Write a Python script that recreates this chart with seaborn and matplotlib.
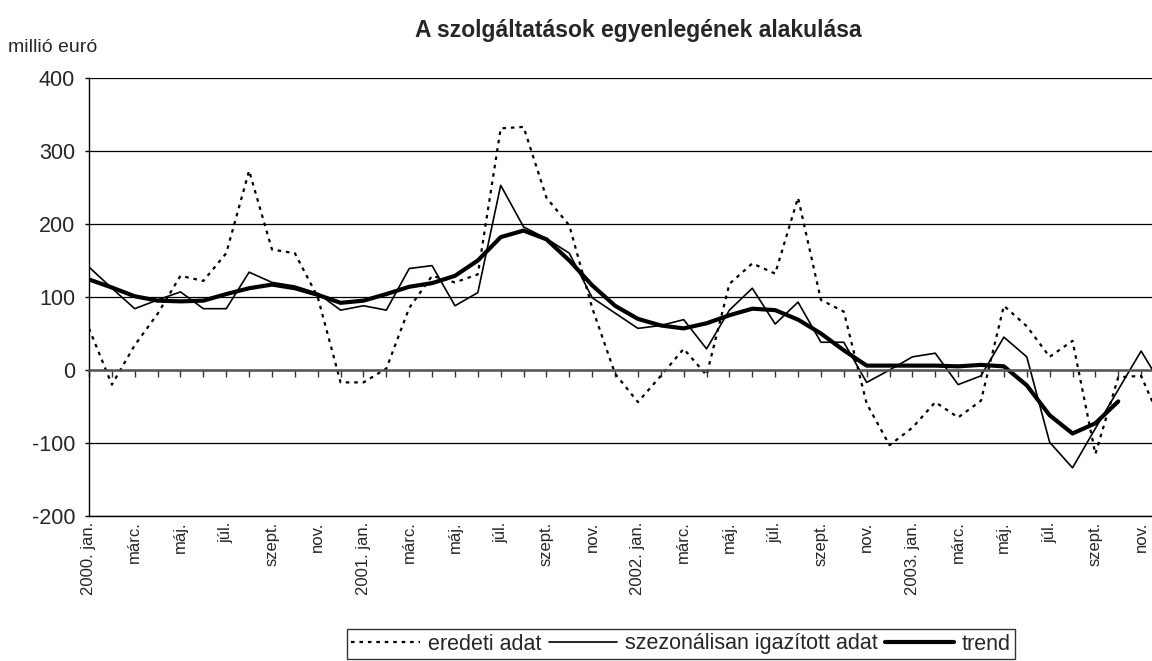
import numpy as np
import pandas as pd
import matplotlib
matplotlib.use('Agg')
import matplotlib.pyplot as plt
import seaborn as sns

# monthly data, 2000 jan - 2003 dec (million euro)
years = [2000, 2001, 2002, 2003]
month_names = ['jan.', 'febr.', 'márc.', 'ápr.', 'máj.', 'jún.',
               'júl.', 'aug.', 'szept.', 'okt.', 'nov.', 'dec.']

eredeti = [57, -20, 34, 77, 129, 122, 160, 273, 165, 160,
           100, -17, -17, 2, 85, 129, 120, 131, 331, 333,
           236, 198, 85, -5, -44, -8, 29, -7, 118, 146,
           132, 236, 96, 80, -46, -103, -79, -44, -65, -42,
           88, 60, 18, 40, -115, -10, -8, -80]

szezonalis = [141, 112, 84, 96, 107, 84, 84, 134, 120, 115,
              105, 82, 88, 82, 139, 143, 88, 106, 253, 196,
              180, 160, 99, 78, 57, 61, 69, 29, 82, 112,
              63, 93, 38, 38, -17, 0, 18, 23, -20, -8,
              45, 18, -99, -134, -80, -27, 26, -26]

trend = [124, 113, 101, 95, 94, 95, 104, 112, 117, 112,
         103, 92, 95, 104, 114, 119, 129, 150, 182, 191,
         179, 150, 116, 88, 70, 61, 57, 64, 75, 84,
         82, 69, 50, 27, 6, 6, 6, 6, 5, 7,
         5, -21, -62, -87, -73, -43]

months = np.arange(len(eredeti))
tick_labels = []
for y in years:
    for m in range(0, 12, 2):
        tick_labels.append(f'{y}. {month_names[m]}' if m == 0 else month_names[m])

sns.set_style('white')
plt.rcParams['font.family'] = ['Liberation Sans', 'DejaVu Sans']
plt.rcParams['axes.unicode_minus'] = False

fig = plt.figure(figsize=(11.52, 6.61), dpi=100)
ax = fig.add_axes([89 / 1152, 1 - 516 / 661, (1164 - 89) / 1152, (516 - 78) / 661])

sns.lineplot(x=months, y=eredeti, ax=ax, color='black', linewidth=1.6,
             linestyle=(0, (1.6, 2.2)), label='eredeti adat')
sns.lineplot(x=months, y=szezonalis, ax=ax, color='black', linewidth=1.2,
             label='szezonálisan igazított adat')
sns.lineplot(x=months[:len(trend)], y=trend, ax=ax, color='black', linewidth=3,
             label='trend')

ax.set_xlim(0, 47)
ax.set_ylim(-200, 400)
ax.set_yticks(range(-200, 401, 100))
ax.grid(axis='y', color='black', linewidth=0.9)
ax.set_axisbelow(True)
for s in ['top', 'right']:
    ax.spines[s].set_visible(False)
ax.spines['left'].set_color('black')
ax.spines['left'].set_linewidth(1.0)

# zero line with monthly tick marks
ax.spines['bottom'].set_position(('data', 0))
ax.spines['bottom'].set_color('#555555')
ax.spines['bottom'].set_linewidth(1.8)
ax.set_xticks(months)
ax.tick_params(axis='x', direction='out', length=5, width=1, color='#333333',
               labelbottom=False, bottom=True)
ax.tick_params(axis='y', direction='out', length=3, width=1, color='black',
               labelsize=15.5, pad=7, left=True)
ax.set_xlabel('')
ax.set_ylabel('')

# category labels at the bottom of the plot area
sec = ax.secondary_xaxis('bottom')
sec.set_xticks(months[::2], labels=tick_labels)
sec.tick_params(length=0, pad=4, labelsize=12, labelrotation=90)
for lab in sec.get_xticklabels():
    lab.set_va('top')
    lab.set_ha('center')
sec.spines['bottom'].set_color('black')
sec.spines['bottom'].set_linewidth(1.0)

fig.text(638 / 1152, 1 - 30 / 661, 'A szolgáltatások egyenlegének alakulása',
         ha='center', va='center', fontsize=16.5, fontweight='bold')
fig.text(8 / 1152, 1 - 48 / 661, 'millió euró', ha='left', va='center', fontsize=14)

ax.legend_.remove()
handles, labels = ax.get_legend_handles_labels()
leg = fig.legend(handles, labels, loc='center', ncol=3,
                 bbox_to_anchor=(681 / 1152, 1 - 644 / 661),
                 frameon=True, fancybox=False, shadow=False, edgecolor='black',
                 fontsize=15.5, handlelength=3.2, handletextpad=0.35,
                 columnspacing=0.35, borderpad=0.2)
leg.get_frame().set_linewidth(1.0)

fig.savefig('out.png', dpi=100)
